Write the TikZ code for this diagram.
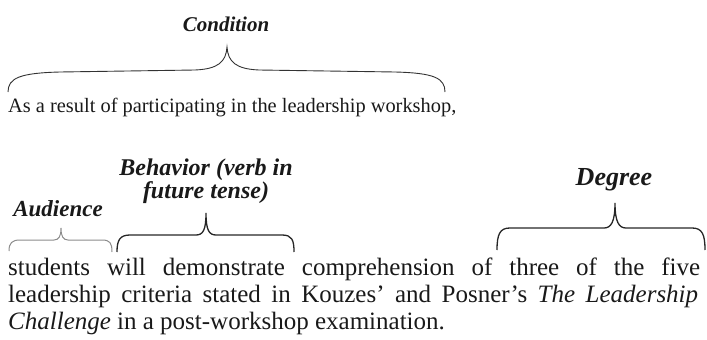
\documentclass[tikz,border=0pt]{standalone}
\usepackage{fontspec}
\setmainfont{Liberation Serif}
\begin{document}
\begin{tikzpicture}[x=1pt,y=-1pt,
  lab/.style={font=\bfseries\itshape, inner sep=0pt, text=black!90},
  body/.style={font=\fontsize{25}{28}\selectfont, inner sep=0pt, anchor=base west, text=black!90},
  brc/.style={line width=1.3pt, black!85},
  gbrc/.style={line width=1pt, black!45},
  cbrc/.style={line width=0.9pt, black!80}]
\useasboundingbox (0,0) rectangle (707,340);
% labels
\node[lab, anchor=base, font=\bfseries\itshape\fontsize{21}{23}\selectfont] (cond) at (226,31) {Condition};
\node[lab, anchor=base, font=\bfseries\itshape\fontsize{23}{25}\selectfont] (aud) at (58,216) {Audience};
\node[lab, anchor=base, font=\bfseries\itshape\fontsize{24}{26}\selectfont] (beh1) at (206,175) {Behavior (verb in};
\node[lab, anchor=base, font=\bfseries\itshape\fontsize{24}{26}\selectfont] (beh2) at (206,198) {future tense)};
\node[lab, anchor=base, font=\bfseries\itshape\fontsize{26}{28}\selectfont] (deg) at (614,185) {Degree};
% body text
\node[body, font=\fontsize{20.4}{24}\selectfont] (l0) at (8,112) {As a result of participating in the leadership workshop,};
\node[body] (l1) at (8,275) {\makebox[692pt][s]{students will demonstrate comprehension of three of the five}};
\node[body] (l2) at (8,302) {\makebox[690pt][s]{leadership criteria stated in Kouzes' and Posner's \textit{The Leadership}}};
\node[body] (l3) at (8,329) {\textit{Challenge} in a post-workshop examination.};
% condition brace
\draw[cbrc] (8,92) .. controls (8,78) and (20,73) .. (60,72)
  -- (195,70) .. controls (218,69) and (226,62) .. (227,47)
  .. controls (228,62) and (236,69) .. (259,70)
  -- (395,72) .. controls (434,73) and (445,78) .. (445,92);
% audience brace
\draw[gbrc] (9,251) .. controls (9,243) and (12,240) .. (20,240)
  -- (54,240) .. controls (59,240) and (61,236) .. (61,228)
  .. controls (61,236) and (63,240) .. (68,240)
  -- (102,240) .. controls (110,240) and (112,243) .. (112,252);
% behavior brace
\draw[brc] (117,252) .. controls (117,240) and (120,235) .. (130,235)
  -- (196,235) .. controls (203,235) and (206,230) .. (206,213)
  .. controls (206,230) and (209,235) .. (216,235)
  -- (282,235) .. controls (292,235) and (294,240) .. (294,252);
% degree brace
\draw[brc] (497,250) .. controls (497,234) and (500,228) .. (510,228)
  -- (604,228) .. controls (611,228) and (615,222) .. (615,203)
  .. controls (615,222) and (619,228) .. (626,228)
  -- (692,228) .. controls (702,228) and (705,234) .. (705,250);
\end{tikzpicture}
\end{document}
